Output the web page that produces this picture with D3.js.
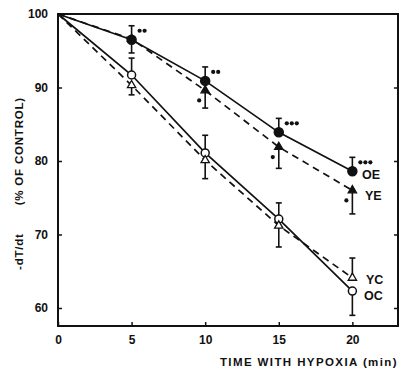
<!DOCTYPE html>
<html>
<head>
<meta charset="utf-8">
<script src="https://cdn.jsdelivr.net/npm/d3@7"></script>
<style>
  body { margin: 0; background: #fff; }
  text { font-family: "Liberation Sans", Arial, sans-serif; font-weight: bold; fill: #111; }
</style>
</head>
<body>
<div id="chart"></div>
<script>
// minutes of hypoxia
const times = [0, 5, 10, 15, 20];
// -dT/dt as % of control
const oe = [100, 96.5, 90.9, 83.9, 78.6];
const ye = [100, 96.6, 89.6, 81.9, 76.0];
const oc = [100, 91.7, 81.1, 72.1, 62.3];
const yc = [100, 90.3, 80.1, 71.2, 64.1];
// error bar ends (null = none drawn)
const oeErr = [null, 98.4, 92.8, 85.8, 80.5];
const yeErr = [null, 94.7, 87.2, 79.0, 72.8];
const ocErr = [null, 94.0, 83.5, 74.3, 59.0];
const ycErr = [null, 89.0, 77.6, 68.3, 66.8];
// significance dots
const oeSig = [0, 2, 2, 3, 3];
const yeSig = [0, 0, 1, 1, 1];
const xTicks = [0, 5, 10, 15, 20];
const yTicks = [60, 70, 80, 90, 100];

const W = 401, H = 370;
const margin = {top: 14, right: 3, bottom: 44, left: 58};
const width = W - margin.left - margin.right,
      height = H - margin.top - margin.bottom;

const svg = d3.select("#chart").append("svg")
    .attr("width", W)
    .attr("height", H);

const g = svg.append("g")
    .attr("transform", "translate(" + margin.left + "," + margin.top + ")");

const x = d3.scaleLinear().domain([0, 23.1]).range([0, width]);
const y = d3.scaleLinear().domain([57.55, 100]).range([height, 0]);

// frame
g.append("rect")
    .attr("width", width).attr("height", height)
    .attr("fill", "none").attr("stroke", "#111").attr("stroke-width", 2);

// left axis (ticks inside)
g.append("g")
    .call(d3.axisLeft(y).tickValues(yTicks).tickSize(-4).tickPadding(10))
    .call(a => a.select(".domain").remove())
    .call(a => a.selectAll("line").attr("stroke", "#111").attr("stroke-width", 1.5))
    .call(a => a.selectAll("text").style("font-size", "12px").attr("font-family", null));
// right ticks
g.append("g")
    .attr("transform", "translate(" + width + ",0)")
    .call(d3.axisRight(y).tickValues(yTicks.slice(0, 4)).tickSize(-4).tickFormat(""))
    .call(a => a.select(".domain").remove())
    .call(a => a.selectAll("line").attr("stroke", "#111").attr("stroke-width", 1.5));
// bottom axis
g.append("g")
    .attr("transform", "translate(0," + height + ")")
    .call(d3.axisBottom(x).tickValues(xTicks).tickSize(-4).tickPadding(9))
    .call(a => a.select(".domain").remove())
    .call(a => a.selectAll("line").attr("stroke", "#111").attr("stroke-width", 1.5))
    .call(a => a.selectAll("text").style("font-size", "12px").attr("font-family", null));

// axis titles
svg.append("text")
    .attr("x", 398).attr("y", 366)
    .attr("text-anchor", "end")
    .style("font-size", "11.5px")
    .style("letter-spacing", "1.4px")
    .text("TIME WITH HYPOXIA (min)");
const yTitle = svg.append("text")
    .attr("transform", "translate(23,0) rotate(-90)")
    .style("font-size", "11.5px")
    .style("letter-spacing", "0.8px");
yTitle.append("tspan").attr("x", -270).attr("text-anchor", "start").text("-dT/dt");
yTitle.append("tspan").attr("x", -97).attr("text-anchor", "end").text("(% OF CONTROL)");

const line = d3.line().x((d, i) => x(times[i])).y(d => y(d));

const series = [
  {name: "OE", v: oe, err: oeErr, dash: null, mark: "circle", fill: "#111", lx: 362, ly: 179},
  {name: "YE", v: ye, err: yeErr, dash: "7,5", mark: "tri", fill: "#111", lx: 365, ly: 200},
  {name: "OC", v: oc, err: ocErr, dash: null, mark: "circle", fill: "#fff", lx: 364, ly: 300},
  {name: "YC", v: yc, err: ycErr, dash: "7,5", mark: "tri", fill: "#fff", lx: 366, ly: 284}
];

series.forEach(s => {
  g.append("path")
      .datum(s.v)
      .attr("d", line)
      .attr("fill", "none")
      .attr("stroke", "#111")
      .attr("stroke-width", 1.7)
      .attr("stroke-dasharray", s.dash);
});

// error bars
series.forEach(s => {
  s.err.forEach((e, i) => {
    if (e == null) return;
    const xx = x(times[i]);
    g.append("line")
        .attr("x1", xx).attr("x2", xx)
        .attr("y1", y(s.v[i])).attr("y2", y(e))
        .attr("stroke", "#111").attr("stroke-width", 1.6);
    g.append("line")
        .attr("x1", xx - 3).attr("x2", xx + 3)
        .attr("y1", y(e)).attr("y2", y(e))
        .attr("stroke", "#111").attr("stroke-width", 1.6);
  });
});

// markers
series.forEach(s => {
  s.v.forEach((v, i) => {
    if (i === 0) return;
    const xx = x(times[i]), yy = y(v);
    if (s.mark === "circle") {
      g.append("circle")
          .attr("cx", xx).attr("cy", yy)
          .attr("r", s.fill === "#fff" ? 4 : 4.5)
          .attr("fill", s.fill).attr("stroke", "#111").attr("stroke-width", 1.5);
    } else {
      g.append("path")
          .attr("d", d3.symbol(d3.symbolTriangle, 30)())
          .attr("transform", "translate(" + xx + "," + yy + ")")
          .attr("fill", s.fill).attr("stroke", "#111").attr("stroke-width", 1.3);
    }
  });
  svg.append("text")
      .attr("x", s.lx).attr("y", s.ly)
      .style("font-size", "12.5px")
      .text(s.name);
});

// significance dots
oeSig.forEach((n, i) => {
  for (let k = 0; k < n; k++) {
    g.append("circle")
        .attr("cx", x(times[i]) + 8 + k * 5)
        .attr("cy", y(oeErr[i]) + 5)
        .attr("r", 2.1).attr("fill", "#111");
  }
});
yeSig.forEach((n, i) => {
  for (let k = 0; k < n; k++) {
    g.append("circle")
        .attr("cx", x(times[i]) - 6 - k * 5)
        .attr("cy", y(ye[i]) + 10)
        .attr("r", 2.1).attr("fill", "#111");
  }
});
</script>
</body>
</html>
